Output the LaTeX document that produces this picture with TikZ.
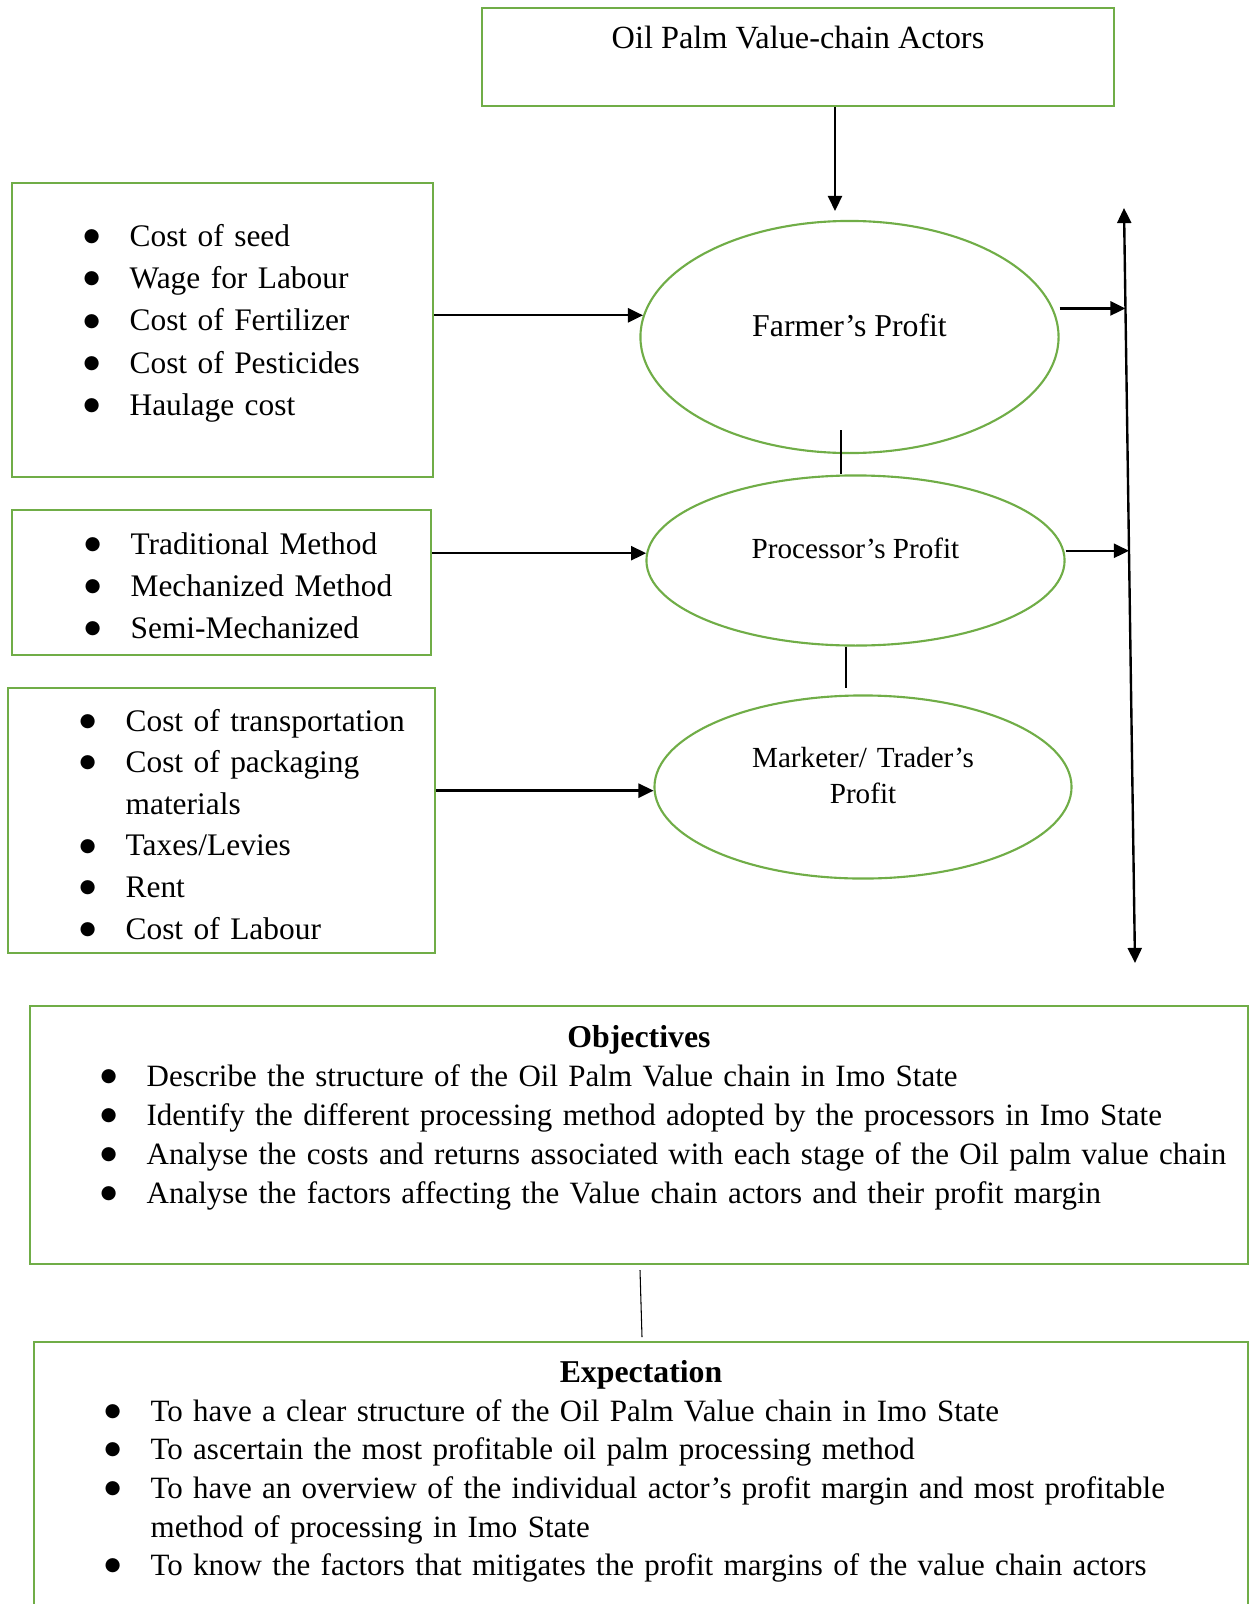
\documentclass[tikz,border=0pt]{standalone}
\usepackage{fontspec}
\setmainfont{Liberation Serif}
\newfontfamily\dotfont{DejaVu Sans}
\usetikzlibrary{calc,fit,arrows.meta,shapes.geometric}
\definecolor{boxgreen}{HTML}{70AD47}
\newcommand{\bul}{\makebox[17.4pt][l]{\raisebox{1.8pt}{\dotfont\fontsize{7pt}{7pt}\selectfont ●}}}
\newcommand{\bulgap}{\hspace*{17.4pt}}
\tikzset{signal/.style={%
  ->,
  >={Triangle[length=5.7pt,width=5.3pt]},
  line width=0.9pt,
  }
}
\tikzset{link/.style={%
  line width=0.4pt,
  }
}
\tikzset{greenframe/.style={%
  draw=boxgreen,
  line width=0.8pt,
  inner sep=0pt,
  }
}
\tikzset{oval/.style={%
  ellipse,
  draw=boxgreen,
  line width=0.8pt,
  inner sep=0pt,
  minimum width=157.8pt,
  }
}
\tikzset{caption/.style={%
  anchor=base,
  inner sep=0pt,
  font=\fontsize{12pt}{14pt}\selectfont,
  }
}
\tikzset{listtext/.style={%
  anchor=base west,
  inner sep=0pt,
  text width=440pt,
  align=left,
  font=\fontsize{11.85pt}{#1}\selectfont,
  }
}
\tikzset{widelist/.style={%
  listtext=#1,
  font=\fontsize{11.7pt}{#1}\selectfont,
  }
}

\begin{document}
\begin{tikzpicture}[x=0.3774pt,y=-0.3774pt]
  \useasboundingbox (0,0) rectangle (1256,1604);
  \clip (0,0) rectangle (1256,1604);

  \node (actors) [greenframe, fit={(482,8) (1114,106)}] {};
  \node (actorstxt) [caption, font=\fontsize{12.2pt}{14pt}\selectfont] at (798,49) {Oil Palm Value-chain Actors};

  \node (farmcost) [greenframe, fit={(12,183) (433,477)}] {};
  \node (farmcosttxt) [listtext=16pt] at (83,246) {\bul Cost of seed\\
    \bul Wage for Labour\\
    \bul Cost of Fertilizer\\
    \bul Cost of Pesticides\\
    \bul Haulage cost};

  \node (method) [greenframe, fit={(12,510) (431,655)}] {};
  \node (methodtxt) [listtext=15.85pt] at (84,554) {\bul Traditional Method\\
    \bul Mechanized Method\\
    \bul Semi-Mechanized};

  \node (tradecost) [greenframe, fit={(8,688) (435,953)}] {};
  \node (tradecosttxt) [listtext=15.7pt] at (79,731) {\bul Cost of transportation\\
    \bul Cost of packaging\\
    \bulgap materials\\
    \bul Taxes/Levies\\
    \bul Rent\\
    \bul Cost of Labour};

  \node (farmer) [oval, minimum height=87.6pt] at (849.5,337) {};
  \node (farmertxt) [caption] at (849.5,336) {Farmer’s Profit};

  \node (processor) [oval, minimum height=64.2pt] at (855.5,560.5) {};
  \node (processortxt) [caption, font=\fontsize{11pt}{13pt}\selectfont] at (855.5,558) {Processor’s Profit};

  \node (marketer) [oval, minimum width=157.4pt, minimum height=69.1pt] at (863,787) {};
  \node (marketertxt) [caption, text width=120pt, align=center,
    font=\fontsize{11pt}{13.6pt}\selectfont] at (863,767) {Marketer/ Trader’s\\Profit};

  \node (objectives) [greenframe, fit={(30,1006) (1248,1264)}] {};
  \node (objectivestxt) [caption] at (639,1047) {\textbf{Objectives}};
  \node (objectiveslist) [widelist=14.72pt] at (100,1086) {\bul Describe the structure of the Oil Palm Value chain in Imo State\\
    \bul Identify the different processing method adopted by the processors in Imo State\\
    \bul Analyse the costs and returns associated with each stage of the Oil palm value chain\\
    \bul Analyse the factors affecting the Value chain actors and their profit margin};

  \node (expectation) [greenframe, fit={(34,1342) (1248,1700)}] {};
  \node (expectationtxt) [caption] at (641,1382) {\textbf{Expectation}};
  \node (expectationlist) [widelist=14.6pt] at (104,1421) {\bul To have a clear structure of the Oil Palm Value chain in Imo State\\
    \bul To ascertain the most profitable oil palm processing method\\
    \bul To have an overview of the individual actor’s profit margin and most profitable\\
    \bulgap method of processing in Imo State\\
    \bul To know the factors that mitigates the profit margins of the value chain actors};

  \coordinate (farmerin) at (835,211);
  \coordinate (vtop) at (1124,208);
  \coordinate (vbot) at (1135,963);
  \coordinate (out1) at ($(vtop)!0.133!(vbot)$);
  \coordinate (out2) at ($(vtop)!0.454!(vbot)$);
  \coordinate (l1top) at (841,430);
  \coordinate (l2bot) at (846,688);
  \coordinate (l3top) at (640,1270);
  \coordinate (l3bot) at (642,1337);

  \draw [signal] (actors.south -| farmerin) -- (farmerin);
  \draw [signal] (farmcost.east |- farmer.174.5) -- (farmer.174.5);
  \draw [signal] (method.east |- processor.178) -- (processor.178);
  \draw [signal] (tradecost.east |- marketer.181) -- (marketer.181);
  \draw [signal, <->] (vtop) -- (vbot);
  \draw [signal] (farmer.east |- out1) -- (out1);
  \draw [signal] (processor.east |- out2) -- (out2);
  \draw [link] (l1top) -- (l1top |- processor.north);
  \draw [link] (l2bot |- processor.south) -- (l2bot);
  \draw [link] (l3top) -- (l3bot);
\end{tikzpicture}
\end{document}
